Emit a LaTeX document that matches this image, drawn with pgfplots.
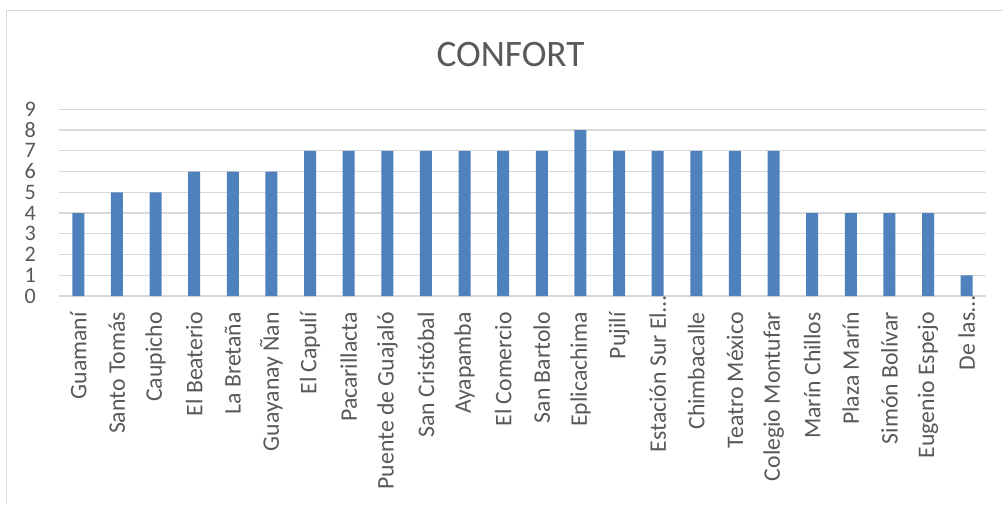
\documentclass[border=0pt]{standalone}
\usepackage{pgfplots}
\pgfplotsset{compat=1.18}
\usepackage{fontspec}
\setmainfont{Carlito}
\definecolor{barblue}{HTML}{4F81BD}
\definecolor{txtgray}{HTML}{595959}
\definecolor{gridgray}{HTML}{D9D9D9}
\begin{document}
\begin{tikzpicture}
\useasboundingbox (0,0) rectangle (752.25pt,378pt);
\fill[white] (0,0) rectangle (752.25pt,378pt);
% chart frame (left and top edges)
\draw[gridgray, line width=1.1pt] (4.9pt,0) -- (4.9pt,370.1pt) -- (752.25pt,370.1pt);
\node[text=txtgray, font=\fontsize{28}{33}\selectfont, anchor=base, inner sep=0pt] at (382.9pt,328pt) {CONFORT};
\begin{axis}[
  at={(44.25pt,156pt)}, anchor=south west,
  scale only axis, width=695.25pt, height=140pt,
  xmin=-0.5, xmax=23.5, ymin=0, ymax=9,
  ytick={0,...,9}, xtick={0,...,23},
  xticklabels={Guamaní,Santo Tomás,Caupicho,El Beaterio,La Bretaña,Guayanay Ñan,El Capulí,Pacarillacta,Puente de Guajaló,San Cristóbal,Ayapamba,El Comercio,San Bartolo,Eplicachima,Pujilí,{Estación Sur El…\kern-12pt},Chimbacalle,Teatro México,Colegio Montufar,Marín Chillos,Plaza Marín,Simón Bolívar,Eugenio Espejo,{De las…\kern-12pt}},
  /pgf/number format/assume math mode=true,
  axis line style={draw=none},
  major tick length=0pt,
  ymajorgrids, grid style={gridgray, line width=0.9pt},
  ticklabel style={text=txtgray},
  yticklabel style={font=\fontsize{16.6}{17}\selectfont, anchor=east, inner sep=0pt, xshift=-17.25pt},
  xticklabel style={font=\fontsize{17.8}{21}\selectfont, rotate=90, anchor=east, inner sep=0pt},
  xticklabel shift=12pt,
  ybar, bar width=9pt, bar shift=0pt,
]
\addplot[fill=barblue, draw=none] coordinates {
  (0,4) (1,5) (2,5) (3,6) (4,6) (5,6) (6,7) (7,7) (8,7) (9,7) (10,7) (11,7)
  (12,7) (13,8) (14,7) (15,7) (16,7) (17,7) (18,7) (19,4) (20,4) (21,4) (22,4) (23,1)
};
\end{axis}
\end{tikzpicture}
\end{document}
